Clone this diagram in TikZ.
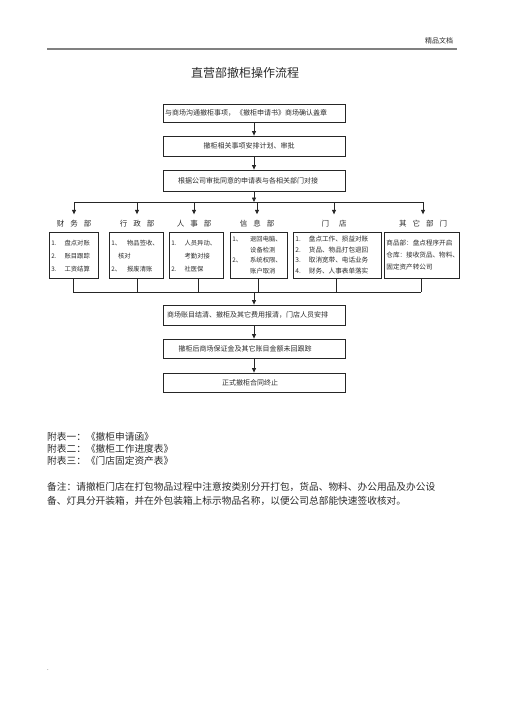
\documentclass[tikz,border=0pt]{standalone}
\usepackage{fontspec}
\setmainfont{Noto Sans CJK SC}
\usetikzlibrary{arrows.meta}
\definecolor{txt}{HTML}{2A2A2A}
\definecolor{ln}{HTML}{262626}
\begin{document}
\begin{tikzpicture}[x=1pt,y=-1pt,
  mbox/.style={draw=ln,line width=0.8pt,minimum width=182pt,inner xsep=2pt,inner ysep=0pt,text=txt,font=\fontsize{7}{9}\selectfont},
  dbox/.style={draw=ln,line width=0.8pt,anchor=north west,inner xsep=2pt,inner ysep=0pt,text=txt,align=left},
  hdr/.style={text=txt,inner xsep=0pt,inner ysep=6pt,font=\fontsize{7.5}{9}\selectfont},
  arr/.style={draw=ln,line width=0.8pt,-{Triangle[width=4pt,length=4.5pt]}},
  lnk/.style={draw=ln,line width=0.8pt},
  plain/.style={text=txt,anchor=west,inner sep=0pt,font=\fontsize{9.7}{14}\selectfont}]
\useasboundingbox (0,0) rectangle (505,714);
% header
\node[text=txt,font=\fontsize{7}{8}\selectfont,inner sep=0pt] (hd) at (439,41) {精品文档};
\draw[draw=gray,line width=1.1pt] (47,49) -- (457,49);
% title
\node[text=txt,font=\fontsize{12}{14}\selectfont,inner sep=0pt] (title) at (245,73) {直营部撤柜操作流程};
% main boxes
\node[mbox,minimum height=18pt,text width=178pt,align=left] (b1) at (254,113) {与商场沟通撤柜事项，\,《撤柜申请书》商场确认盖章};
\node[mbox,minimum height=20pt] (b2) at (254,146) {\hspace*{-10pt}撤柜相关事项安排计划、审批};
\node[mbox,minimum height=21pt] (b3) at (254,180.5) {\hspace*{-12pt}根据公司审批同意的申请表与各相关部门对接};
% bus 1
\coordinate (bus1) at (254,202);
\draw[arr] (b3.south) -- (bus1);
% department headers
\node[hdr] (hfin) at (74,224) {财\hspace{6pt}务\hspace{6pt}部};
\node[hdr] (hadm) at (137,224) {行\hspace{6pt}政\hspace{6pt}部};
\node[hdr] (hhr) at (194,224) {人\hspace{6pt}事\hspace{6pt}部};
\node[hdr] (hinf) at (257,224) {信\hspace{6pt}息\hspace{6pt}部};
\node[hdr] (hsto) at (334,224) {门\hspace{10pt}店};
\node[hdr] (hoth) at (423,224) {其\hspace{6pt}它\hspace{6pt}部\hspace{6pt}门};
\draw[lnk] (hfin |- bus1) -- (hoth |- bus1);
\foreach \h in {hfin,hadm,hhr,hinf,hsto,hoth}{\draw[arr] (\h |- bus1) -- (\h.north);}
% department boxes
\node[dbox,minimum width=49pt,minimum height=46pt,text width=45pt,font=\fontsize{6.3}{13}\selectfont] (fin) at (49,232)
 {\begin{tabular}{@{}l@{\hspace{8pt}}l@{}}1. & 盘点对账\\ 2. & 账目跟踪\\ 3. & 工资结算\end{tabular}};
\node[dbox,minimum width=54pt,minimum height=46pt,text width=50pt,font=\fontsize{6.3}{13}\selectfont] (adm) at (109,232)
 {\begin{tabular}{@{}l@{\hspace{6pt}}l@{}}1、 & 物品签收、\\ & \hspace*{-9pt}核对\\ 2、 & 报废清账\end{tabular}};
\node[dbox,minimum width=54pt,minimum height=46pt,text width=50pt,font=\fontsize{6.3}{13}\selectfont] (hr) at (169,232)
 {\begin{tabular}{@{}l@{\hspace{8pt}}l@{}}1. & 人员异动、\\ & 考勤对接\\ 2. & 社医保\end{tabular}};
\node[dbox,minimum width=57pt,minimum height=46pt,text width=53pt,font=\fontsize{6.3}{10.7}\selectfont] (inf) at (230,232)
 {\begin{tabular}{@{}l@{\hspace{8pt}}l@{}}1、 & 退回电脑、\\ & 设备检测\\ 2、 & 系统权限、\\ & 账户取消\end{tabular}};
\node[dbox,minimum width=88pt,minimum height=46pt,text width=84pt,font=\fontsize{6.6}{10.7}\selectfont] (sto) at (293,232)
 {\begin{tabular}{@{}l@{\hspace{8pt}}l@{}}1. & 盘点工作、损益对账\\ 2. & 货品、物品打包退回\\ 3. & 取消宽带、电话业务\\ 4. & 财务、人事表单落实\end{tabular}};
\node[dbox,minimum width=75pt,minimum height=46pt,text width=71pt,font=\fontsize{6.6}{12}\selectfont] (oth) at (384,232)
 {商品部：盘点程序开启\\仓库：接收货品、物料、\\固定资产转公司};
% bus 2
\coordinate (bus2) at (254,292);
\foreach \b/\x in {fin/73,adm/137,hr/198,inf/258,sto/336,oth/421}{\draw[lnk] (\x,0 |- \b.south) -- (\x,292);}
\draw[lnk] (73,292) -- (421,292);
% lower boxes
\node[mbox,minimum height=20pt,text width=178pt,align=left] (b4) at (254,315) {\hspace*{2pt}商场账目结清、撤柜及其它费用报清，门店人员安排};
\draw[arr] (bus2) -- (b4.north);
\node[mbox,minimum height=19pt] (b5) at (254,348.5) {\hspace*{-18pt}撤柜后商场保证金及其它账目金额未回跟踪};
\node[mbox,minimum height=19pt] (b6) at (254,382.5) {\hspace*{-8pt}正式撤柜合同终止};
\draw[arr] (b1.south) -- (b2.north);
\draw[arr] (b2.south) -- (b3.north);
\draw[arr] (b4.south) -- (b5.north);
\draw[arr] (b5.south) -- (b6.north);
% appendix
\node[plain] (a1) at (47,437) {附表一：《撤柜申请函》};
\node[plain] (a2) at (47,449) {附表二：《撤柜工作进度表》};
\node[plain] (a3) at (47,461) {附表三：《门店固定资产表》};
\node[plain] (n1) at (47,487) {备注：请撤柜门店在打包物品过程中注意按类别分开打包，货品、物料、办公用品及办公设};
\node[plain] (n2) at (47,501) {备、灯具分开装箱，并在外包装箱上标示物品名称，以便公司总部能快速签收核对。};
\node[text=txt,inner sep=0pt,font=\fontsize{6}{7}\selectfont] (dot) at (48,670) {.};
\end{tikzpicture}
\end{document}
